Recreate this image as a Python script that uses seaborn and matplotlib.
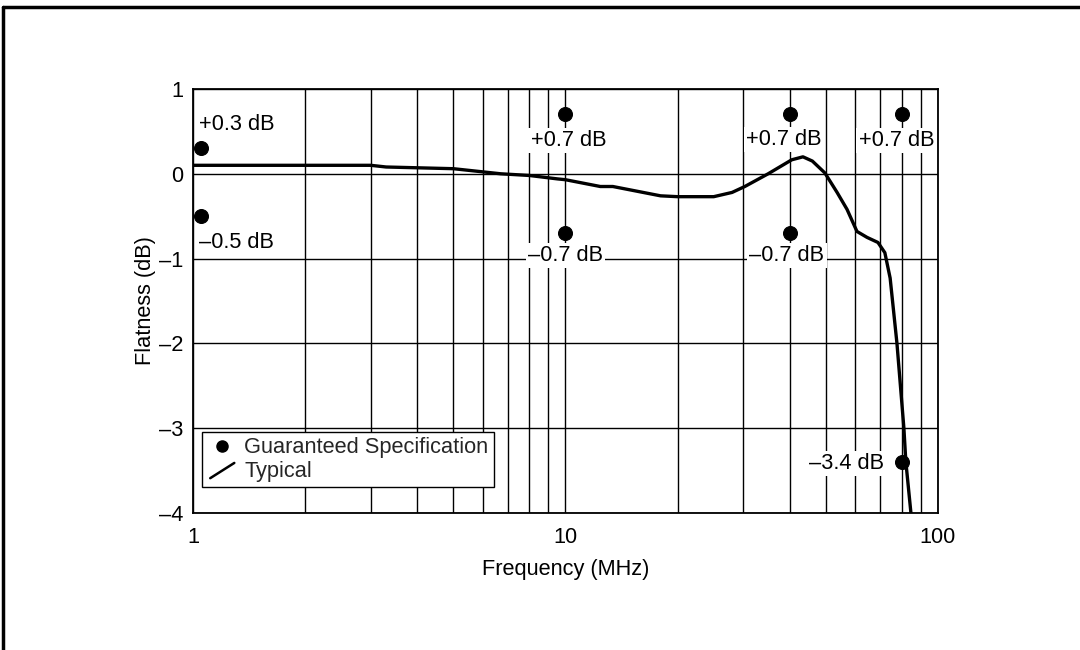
import matplotlib
matplotlib.use("Agg")
import matplotlib.pyplot as plt
import seaborn as sns
import pandas as pd
from matplotlib.lines import Line2D
from matplotlib.legend_handler import HandlerLine2D

# ---- data ----
freq_mhz = [1, 2, 3, 3.3, 5, 6.7, 8, 9.5, 10, 12.4, 13.4, 18, 20, 25, 28, 30.3,
            35, 40.5, 43.4, 46, 49.7, 53.6, 57, 60.6, 64.5, 69, 72, 74.4, 77.6,
            81, 82, 84.6]
flatness_db = [0.1, 0.1, 0.1, 0.08, 0.06, 0.0, -0.02, -0.06, -0.07, -0.15, -0.15,
               -0.26, -0.27, -0.27, -0.22, -0.15, 0.0, 0.165, 0.2, 0.15, 0.01,
               -0.22, -0.42, -0.68, -0.75, -0.81, -0.93, -1.23, -2.0, -3.0, -3.4, -4.0]

spec_freq = [1.05, 1.05, 10, 10, 40, 40, 80, 80]
spec_db = [0.3, -0.5, 0.7, -0.7, 0.7, -0.7, 0.7, -3.4]
spec_labels = ["+0.3 dB", "–0.5 dB", "+0.7 dB", "–0.7 dB", "+0.7 dB", "–0.7 dB",
               "+0.7 dB", "–3.4 dB"]

x_ticks = [1, 10, 100]
x_tick_labels = ["1", "10", "100"]
y_ticks = [-4, -3, -2, -1, 0, 1]
y_tick_labels = ["–4", "–3", "–2", "–1", "0", "1"]

typ_df = pd.DataFrame({"f": freq_mhz, "db": flatness_db})
spec_df = pd.DataFrame({"f": spec_freq, "db": spec_db})

sns.set_theme(style="white")
plt.rcParams["font.family"] = ["Liberation Sans", "DejaVu Sans"]
FS = 15.7

fig = plt.figure(figsize=(10.8, 6.5), dpi=100)
ax = fig.add_axes([0.1787, 0.2108, 0.6898, 0.6523])

ax.set_xscale("log")
ax.set_xlim(1, 100)
ax.set_ylim(-4, 1)

ax.grid(True, which="both", axis="x", color="black", linewidth=1.0)
ax.grid(True, which="major", axis="y", color="black", linewidth=1.0)
ax.set_axisbelow(True)

sns.lineplot(data=typ_df, x="f", y="db", ax=ax, color="black", linewidth=2.4,
             estimator=None, sort=False, zorder=4)
sns.scatterplot(data=spec_df, x="f", y="db", ax=ax, color="black", s=100,
                edgecolor="black", zorder=6)

ax.set_xticks(x_ticks)
ax.set_xticklabels(x_tick_labels)
ax.set_yticks(y_ticks)
ax.set_yticklabels(y_tick_labels)
ax.tick_params(axis="x", which="both", length=0, labelsize=FS, colors="black", pad=10)
ax.tick_params(axis="y", which="both", length=0, labelsize=FS, colors="black", pad=7)
ax.set_xlabel("Frequency (MHz)", fontsize=FS, color="black", labelpad=8)
ax.set_ylabel("Flatness (dB)", fontsize=FS, color="black", labelpad=2)
for s in ax.spines.values():
    s.set_color("black")
    s.set_linewidth(1.3)

# annotations: offsets in points (x, y) and horizontal alignment
bbox = dict(facecolor="white", edgecolor="none", pad=1.5)
offsets = [(-1, 17, "left"), (-1, -19, "left"), (2, -19, "center"),
           (0, -16, "center"), (-4, -18, "center"), (-2, -16, "center"),
           (-4, -19, "center"), (-13, -1, "right")]
for fx, dy, lab, (ox, oy, ha) in zip(spec_freq, spec_db, spec_labels, offsets):
    ax.annotate(lab, (fx, dy), xytext=(ox, oy), textcoords="offset points",
                ha=ha, va="center", fontsize=FS, color="black", bbox=bbox, zorder=3)


class DiagHandler(HandlerLine2D):
    def create_artists(self, legend, orig_handle, xdescent, ydescent, width, height,
                       fontsize, trans):
        line = Line2D([0.1 * width - xdescent, 0.95 * width - xdescent],
                      [-ydescent - 0.1 * height, height * 0.9 - ydescent],
                      color="black", linewidth=1.8)
        line.set_transform(trans)
        return [line]


h_spec = Line2D([], [], marker="o", color="black", linestyle="none", markersize=8)
h_typ = Line2D([], [], color="black")
leg = ax.legend([h_spec, h_typ], ["Guaranteed Specification", "Typical"],
                loc="lower left", bbox_to_anchor=(0.012, 0.061), fontsize=FS,
                frameon=True, fancybox=False, edgecolor="black", framealpha=1,
                borderpad=0.25, handlelength=1.3, handletextpad=0.4, labelspacing=0.1,
                borderaxespad=0, handler_map={h_typ: DiagHandler()})
leg.get_frame().set_linewidth(1.0)
leg.set_zorder(10)

# figure frame lines (top and left)
fig.add_artist(Line2D([0.003, 1.0], [0.99, 0.99], transform=fig.transFigure,
                      color="black", linewidth=2.5))
fig.add_artist(Line2D([0.003, 0.003], [0.0, 0.99], transform=fig.transFigure,
                      color="black", linewidth=2.5))

fig.savefig("out.png", dpi=100)
